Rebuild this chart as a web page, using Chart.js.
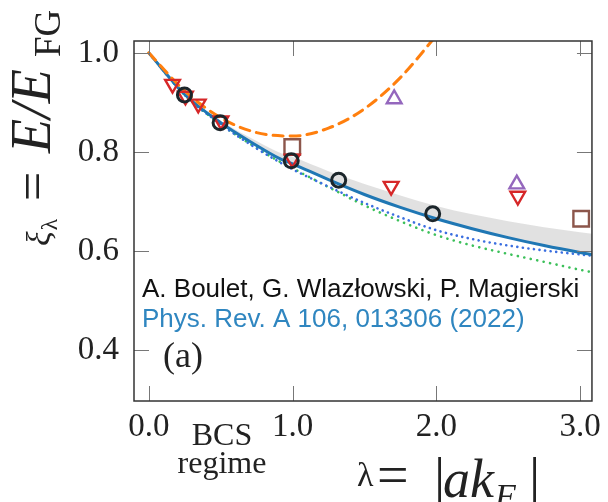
<!DOCTYPE html>
<html>
<head>
<meta charset="utf-8">
<script src="https://cdn.jsdelivr.net/npm/chart.js@4"></script>
<style>
  body { margin: 0; background: #fff; }
  canvas { display: block; }
</style>
</head>
<body>
<canvas id="chart" width="608" height="502" style="width:608px;height:502px"></canvas>
<script>
const lambdaGrid = [0, 0.25, 0.5, 0.75, 0.9, 1.0, 1.25, 1.5, 1.75, 2.0, 2.25, 2.5, 2.75, 3.0, 3.1];
const fitLine    = [1.0, 0.916, 0.859, 0.813, 0.788, 0.776, 0.744, 0.714, 0.688, 0.665, 0.645, 0.627, 0.611, 0.597, 0.592];
const bandUpper  = [1.0, 0.918, 0.863, 0.822, 0.800, 0.790, 0.761, 0.735, 0.712, 0.691, 0.674, 0.660, 0.648, 0.638, 0.634];
const blueDotted = [1.0, 0.915, 0.856, 0.807, 0.781, 0.765, 0.730, 0.697, 0.668, 0.642, 0.624, 0.611, 0.601, 0.593, 0.590];
const greenDotted= [1.0, 0.915, 0.856, 0.808, 0.782, 0.767, 0.729, 0.692, 0.660, 0.632, 0.611, 0.594, 0.578, 0.562, 0.556];

// second order expansion (orange dashed)
const lyLambda = [0, 0.25, 0.5, 0.75, 1.0, 1.25, 1.5, 1.75, 2.0];
const lyValues = [1.0, 0.923, 0.869, 0.839, 0.832, 0.848, 0.887, 0.950, 1.035];

// data points
const circleX = [0.248, 0.496, 0.991, 1.321, 1.975];
const circleY = [0.915, 0.859, 0.782, 0.743, 0.675];
const downTriX = [0.165, 0.255, 0.344, 0.502, 0.998, 1.686, 2.567];
const downTriY = [0.937, 0.913, 0.897, 0.863, 0.786, 0.731, 0.711];
const upTriX = [1.707, 2.56];
const upTriY = [0.907, 0.735];
const squareX = [0.998, 3.008];
const squareY = [0.810, 0.665];

const xTicks = [0, 1, 2, 3];
const xTickLabels = ['0.0', '1.0', '2.0', '3.0'];
const yTicks = [0.4, 0.6, 0.8, 1.0];
const yTickLabels = ['0.4', '0.6', '0.8', '1.0'];

const pts = (xs, ys) => xs.map((v, i) => ({x: v, y: ys[i]}));

const serif = "'Liberation Serif', 'DejaVu Serif', serif";
const sans = "'Liberation Sans', Arial, sans-serif";

function markers(xs, ys, style, color, radius, width, rotation) {
  return {
    data: pts(xs, ys), showLine: false, pointStyle: style, rotation: rotation || 0,
    pointRadius: radius, pointBorderColor: color, pointBackgroundColor: 'rgba(0,0,0,0)',
    pointBorderWidth: width, borderColor: color
  };
}

function curve(ys, xs, color, width, dash) {
  return {
    data: pts(xs, ys), borderColor: color, borderWidth: width, borderDash: dash || [],
    borderCapStyle: dash ? 'round' : 'butt', pointRadius: 0, fill: false,
    cubicInterpolationMode: 'monotone'
  };
}

const decor = {
  id: 'decor',
  afterDraw(chart) {
    const {ctx, chartArea: a, scales: {x, y}} = chart;
    ctx.save();
    const seg = (x1, y1, x2, y2) => { ctx.beginPath(); ctx.moveTo(x1, y1); ctx.lineTo(x2, y2); ctx.stroke(); };

    // inward tick marks on all four sides
    ctx.strokeStyle = '#777';
    ctx.lineWidth = 1;
    xTicks.forEach(v => {
      const px = Math.round(x.getPixelForValue(v)) + 0.5;
      seg(px, a.bottom, px, a.bottom - 15);
      seg(px, a.top, px, a.top + 15);
    });
    yTicks.forEach(v => {
      const py = Math.round(y.getPixelForValue(v)) + 0.5;
      seg(a.left, py, a.left + 15, py);
      seg(a.right, py, a.right - 15, py);
    });

    // frame
    ctx.strokeStyle = '#333';
    ctx.lineWidth = 1.5;
    ctx.strokeRect(a.left, a.top, a.right - a.left, a.bottom - a.top);

    // credits
    ctx.textAlign = 'left';
    ctx.textBaseline = 'alphabetic';
    ctx.font = '26px ' + sans;
    ctx.fillStyle = '#111';
    ctx.fillText('A. Boulet, G. Wlazłowski, P. Magierski', 142, 297);
    ctx.fillStyle = '#2f86c0';
    ctx.fillText('Phys. Rev. A 106, 013306 (2022)', 142, 327);

    // panel label
    ctx.fillStyle = '#222';
    ctx.font = '36px ' + serif;
    ctx.fillText('(a)', 163, 367);

    // BCS regime
    ctx.textAlign = 'center';
    ctx.font = '32px ' + serif;
    ctx.fillText('BCS', 222, 445);
    ctx.fillText('regime', 222, 473);

    // x title: λ= |ak_F|
    ctx.textAlign = 'left';
    ctx.font = '34px ' + serif;
    ctx.fillText('λ', 357, 486);
    ctx.font = '56px ' + serif;
    ctx.fillText('=', 377, 494);
    ctx.fillText('|', 434, 497);
    ctx.fillText('|', 529, 497);
    ctx.font = 'italic 54px ' + serif;
    ctx.fillText('ak', 443, 497);
    ctx.font = 'italic 34px ' + serif;
    ctx.fillText('F', 495, 507);

    // y title: ξ_λ = E/E_FG (rotated)
    ctx.translate(50, 246);
    ctx.rotate(-Math.PI / 2);
    ctx.font = 'italic 34px ' + serif;
    ctx.fillText('ξ', 0, 0);
    const xiW = ctx.measureText('ξ').width;
    ctx.font = '24px ' + serif;
    ctx.fillText('λ', xiW + 1, 7);
    ctx.font = '52px ' + serif;
    ctx.fillText('=', 45, 0);
    ctx.font = 'italic 56px ' + serif;
    ctx.fillText('E/E', 93, 0);
    ctx.font = '37px ' + serif;
    ctx.fillText('FG', 189, 10);
    ctx.restore();
  }
};

new Chart(document.getElementById('chart'), {
  type: 'scatter',
  data: {
    datasets: [
      markers(circleX, circleY, 'circle', '#1c262b', 7, 3),
      markers(downTriX, downTriY, 'triangle', '#d62728', 8.5, 2.4, 180),
      markers(upTriX, upTriY, 'triangle', '#9467bd', 8.5, 2.4),
      markers(squareX, squareY, 'rect', '#8c564b', 11, 2.4),
      curve(lyValues, lyLambda, '#ff7f0e', 3, [10, 7]),
      curve(fitLine, lambdaGrid, '#1f77b4', 3),
      curve(blueDotted, lambdaGrid, '#3b6fe0', 2.6, [0.1, 5.5]),
      curve(greenDotted, lambdaGrid, '#3cc05a', 2.6, [0.1, 6.5]),
      Object.assign(curve(bandUpper, lambdaGrid, 'rgba(0,0,0,0)', 0), {
        fill: {target: 5}, backgroundColor: 'rgba(200,200,200,0.55)'
      })
    ]
  },
  options: {
    responsive: false,
    animation: false,
    showLine: true,
    layout: {padding: {top: 41, right: 11, left: 0, bottom: 0}},
    plugins: {legend: {display: false}, tooltip: {enabled: false}},
    scales: {
      x: {
        type: 'linear', min: -0.103, max: 3.083,
        grid: {display: false, drawTicks: false}, border: {display: false},
        afterBuildTicks: s => { s.ticks = xTicks.map(v => ({value: v})); },
        afterFit: s => { s.height = 101; },
        ticks: {
          padding: 7, color: '#222', font: {family: serif, size: 33},
          callback: (v) => xTickLabels[xTicks.indexOf(v)]
        }
      },
      y: {
        type: 'linear', min: 0.297, max: 1.024,
        grid: {display: false, drawTicks: false}, border: {display: false},
        afterBuildTicks: s => { s.ticks = yTicks.map(v => ({value: v})); },
        afterFit: s => { s.width = 134; },
        ticks: {
          padding: 15, color: '#222', font: {family: serif, size: 33},
          callback: (v) => yTickLabels[yTicks.findIndex(t => Math.abs(t - v) < 1e-9)]
        }
      }
    }
  },
  plugins: [decor]
});
</script>
</body>
</html>
